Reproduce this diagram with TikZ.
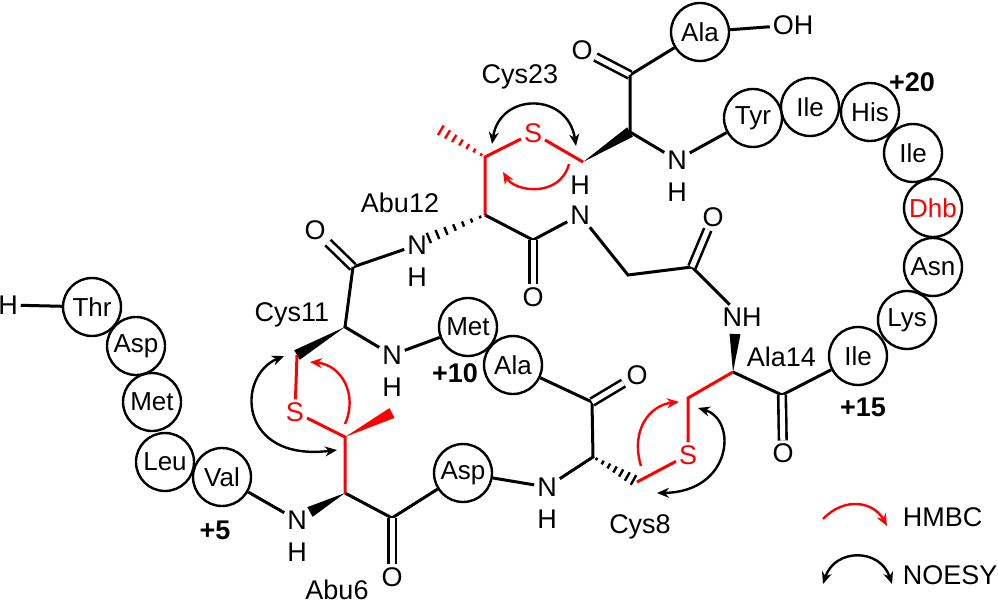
\documentclass[tikz,border=0pt]{standalone}
\usepackage{fontspec}
\setmainfont{Liberation Sans}
\usetikzlibrary{arrows.meta,calc}
\begin{document}
\begin{tikzpicture}[x=1pt,y=-1pt,line width=3pt,
  res/.style={circle,draw,line width=2.4pt,minimum size=58pt,inner sep=0pt,font=\fontsize{26}{28}\selectfont},
  atom/.style={inner sep=1.5pt,font=\fontsize{27}{29}\selectfont},
  lab/.style={font=\fontsize{27}{29}\selectfont},
  num/.style={font=\fontsize{27}{29}\selectfont\bfseries},
  dbl/.style={double,double distance=5pt,line width=2.6pt},
  rb/.style={red},
  hm/.style={red,line width=2.4pt,-{Stealth[length=12pt,width=10pt]}},
  no/.style={line width=2.4pt,{Stealth[length=12pt,width=10pt]}-{Stealth[length=12pt,width=10pt]}}]
\useasboundingbox (0,0) rectangle (998,604);
\newcommand{\wedgebond}[3][black]{\fill[#1] (#2) -- ($(#3)!5.5pt!90:(#2)$) -- ($(#3)!5.5pt!-90:(#2)$) -- cycle;}
\newcommand{\hashbond}[3][black]{\foreach \t in {0.08,0.22,0.36,0.5,0.64,0.78,0.92}{\path ($(#2)!\t!(#3)$) coordinate (hp); \pgfmathsetmacro\hl{1+5*\t}\draw[#1,line width=2.4pt] ($(hp)!\hl pt!90:(#3)$) -- ($(hp)!\hl pt!-90:(#3)$);}}
% residues
\node[res] (alaT) at (700,32) {Ala};
\node[res] (tyr) at (753,118) {Tyr};
\node[res] (ile1) at (810,107) {Ile};
\node[res] (his) at (870,112) {His};
\node[res] (ile2) at (913,153) {Ile};
\node[res,text=red] (dhb) at (933,208) {Dhb};
\node[res] (asn) at (933,267) {Asn};
\node[res] (lys) at (907,320) {Lys};
\node[res] (ile3) at (858,356) {Ile};
\node[res] (met1) at (468,327) {Met};
\node[res] (ala2) at (513,365) {Ala};
\node[res] (asp1) at (463,473) {Asp};
\node[res] (thr) at (92,307) {Thr};
\node[res] (asp2) at (136,346) {Asp};
\node[res] (met2) at (152,402) {Met};
\node[res] (leu) at (165,462) {Leu};
\node[res] (val) at (222,477) {Val};
% atoms
\node[atom] (oh) at (793,25) {OH};
\node[atom] (hN) at (8,305) {H};
\node[atom] (o1) at (582,50) {O};
\node[atom] (n1) at (677,160) {N};
\node[atom] (h1) at (677,192) {H};
\node[atom,text=red] (s23) at (533,133) {S};
\node[atom] (h23) at (580,185) {H};
\node[atom] (n12) at (417,245) {N};
\node[atom] (h12) at (417,277) {H};
\node[atom] (o12) at (315,230) {O};
\node[atom] (n2) at (580,215) {N};
\node[atom] (o2) at (533,297) {O};
\node[atom] (o3) at (713,217) {O};
\node[atom] (n3) at (742,317) {NH};
\node[atom] (o4) at (783,453) {O};
\node[atom] (n11) at (392,355) {N};
\node[atom] (h11) at (392,387) {H};
\node[atom] (o5) at (637,375) {O};
\node[atom] (n8) at (547,487) {N};
\node[atom] (h8) at (547,519) {H};
\node[atom] (o6) at (392,577) {O};
\node[atom] (n6) at (297,520) {N};
\node[atom] (h6) at (297,552) {H};
\node[atom,text=red] (s11) at (295,412) {S};
\node[atom,text=red] (s8) at (688,455) {S};
% carbons
\coordinate (c1) at (630,75);
\coordinate (ca23) at (630,132);
\coordinate (cb23) at (583,162);
\coordinate (cb12) at (485,157);
\coordinate (me12) at (437,128);
\coordinate (ca12) at (485,215);
\coordinate (n12e) at (424,240);
\coordinate (c12) at (353,267);
\coordinate (ca11) at (345,327);
\coordinate (cb11) at (297,355);
\coordinate (c2) at (533,240);
\coordinate (g) at (628,275);
\coordinate (c3) at (692,267);
\coordinate (ca14) at (733,372);
\coordinate (n3e) at (735,334);
\coordinate (c4) at (782,395);
\coordinate (cb14) at (688,398);
\coordinate (c5) at (592,402);
\coordinate (ca8) at (593,457);
\coordinate (cb8) at (637,482);
\coordinate (c6) at (392,518);
\coordinate (ca6) at (345,493);
\coordinate (n6e) at (310,512);
\coordinate (cb6) at (345,437);
\coordinate (me6) at (392,413);
% bonds
\draw (oh) -- (alaT);
\draw (hN) -- (thr);
\draw (alaT) -- (c1);
\draw[dbl] (c1) -- (o1);
\draw (c1) -- (ca23) -- (n1) -- (tyr);
\wedgebond{cb23}{ca23}
\draw[rb] (cb23) -- (s23) -- (cb12) -- (ca12);
\hashbond[red]{cb12}{me12}
\hashbond{ca12}{n12e}
\draw (n12) -- (c12);
\draw[dbl] (c12) -- (o12);
\draw (c12) -- (ca11) -- (n11) -- (met1);
\wedgebond{ca11}{cb11}
\draw (ca12) -- (c2) -- (n2) -- (g) -- (c3) -- (n3);
\draw[dbl] (c2) -- (o2);
\draw[dbl] (c3) -- (o3);
\wedgebond{ca14}{n3e}
\draw (ca14) -- (c4) -- (ile3);
\draw[dbl] (c4) -- (o4);
\draw[rb] (ca14) -- (cb14) -- (s8) -- (cb8);
\hashbond{ca8}{cb8}
\draw (ala2) -- (c5) -- (ca8) -- (n8) -- (asp1) -- (c6) -- (ca6);
\draw[dbl] (c5) -- (o5);
\draw[dbl] (c6) -- (o6);
\wedgebond{ca6}{n6e}
\draw (n6) -- (val);
\draw[rb] (ca6) -- (cb6) -- (s11) -- (cb11);
\wedgebond[red]{cb6}{me6}
% labels
\node[lab] (l23) at (520,77) {Cys23};
\node[lab] (l12) at (400,203) {Abu12};
\node[lab] (l11) at (292,315) {Cys11};
\node[lab] (l8) at (640,527) {Cys8};
\node[lab] (l6) at (337,590) {Abu6};
\node[lab,anchor=west] (l14) at (742,357) {Ala14};
\node[num] (p10) at (455,373) {+10};
\node[num] (p15) at (863,407) {+15};
\node[num] (p20) at (912,82) {+20};
\node[num] (p5) at (215,530) {+5};
% correlation arrows
\coordinate (a1) at (492,144); \coordinate (a2) at (576,146);
\draw[no] (a1) .. controls (500,92) and (568,92) .. (a2);
\coordinate (a3) at (569,164); \coordinate (a4) at (503,172);
\draw[hm] (a3) .. controls (560,198) and (515,192) .. (a4);
\coordinate (a5) at (284,356); \coordinate (a6) at (337,450);
\draw[no] (a5) .. controls (236,376) and (238,462) .. (a6);
\coordinate (a7) at (345,424); \coordinate (a8) at (310,362);
\draw[hm] (a7) .. controls (358,395) and (342,365) .. (a8);
\coordinate (a9) at (641,466); \coordinate (a10) at (679,402);
\draw[hm] (a9) .. controls (630,430) and (650,405) .. (a10);
\coordinate (a11) at (698,408); \coordinate (a12) at (657,493);
\draw[no] (a11) .. controls (738,420) and (732,492) .. (a12);
% legend
\coordinate (lh1) at (823,519); \coordinate (lh2) at (887,526);
\draw[hm] (lh1) .. controls (845,496) and (874,502) .. (lh2);
\node[lab,anchor=west] (lhm) at (898,517) {HMBC};
\coordinate (ln1) at (823,584); \coordinate (ln2) at (892,584);
\draw[no] (ln1) .. controls (835,548) and (880,548) .. (ln2);
\node[lab,anchor=west] (lno) at (898,575) {NOESY};
\end{tikzpicture}
\end{document}
